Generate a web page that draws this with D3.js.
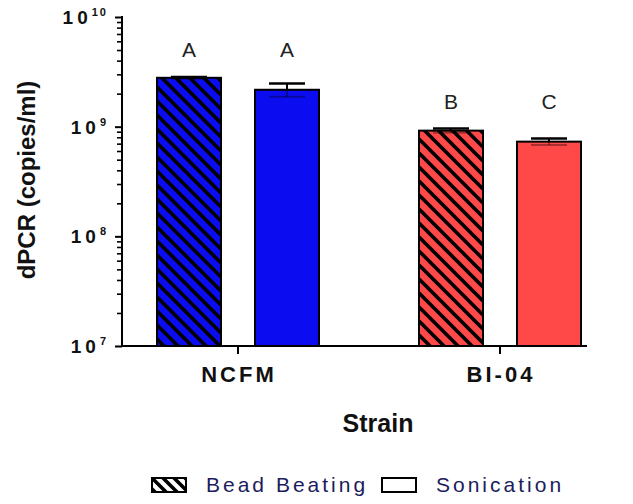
<!DOCTYPE html>
<html>
<head>
<meta charset="utf-8">
<script src="https://cdn.jsdelivr.net/npm/d3@7"></script>
<style>
  body { margin: 0; background: #fff; }
  svg { display: block; font-family: "Liberation Sans", Arial, sans-serif; }
</style>
</head>
<body>
<svg width="633" height="504"></svg>
<script>
// data
const strains = ["NCFM", "BI-04"];
const methods = ["Bead Beating", "Sonication"];
const means = {
  "NCFM":  [2.79e9, 2.17e9],
  "BI-04": [9.2e8, 7.3e8]
};
const errors = {
  "NCFM":  [0.05e9, 0.3e9],
  "BI-04": [0.4e8, 0.5e8]
};
const letters = {
  "NCFM":  ["A", "A"],
  "BI-04": ["B", "C"]
};
const colors = { "NCFM": "#0c0cf0", "BI-04": "#ff4848" };
const yTicks = [1e7, 1e8, 1e9, 1e10];

const svg = d3.select("svg");
const defs = svg.append("defs");

function hatch(id, bg, s) {
  const p = defs.append("pattern").attr("id", id)
    .attr("patternUnits", "userSpaceOnUse").attr("width", s).attr("height", s);
  p.append("rect").attr("width", s).attr("height", s).attr("fill", bg);
  p.append("path").attr("d", `M0,0L${s},${s}M-4,${s - 4}L4,${s + 4}M${s - 4},-4L${s + 4},4`)
    .attr("stroke", "#000").attr("stroke-width", 3.6);
}
hatch("hatch-NCFM", colors["NCFM"], 14);
hatch("hatch-BI-04", colors["BI-04"], 14);
hatch("hatch-legend", "#fff", 11);

const y = d3.scaleLog().domain([1e7, 1e10]).range([346, 17]);
const x0 = d3.scaleBand().domain(strains).range([107, 631]);
const x1 = d3.scaleBand().domain(methods).range([-81, 81]).paddingInner(0.347);

const rows = [];
strains.forEach(s => methods.forEach((m, i) => rows.push({
  strain: s, method: m, i: i, v: means[s][i], e: errors[s][i], letter: letters[s][i]
})));
const cx = d => x0(d.strain) + x0.bandwidth() / 2 + x1(d.method);

// bars
svg.append("g").selectAll("rect").data(rows).join("rect")
  .attr("x", d => cx(d))
  .attr("y", d => y(d.v))
  .attr("width", x1.bandwidth())
  .attr("height", d => y(1e7) - y(d.v))
  .attr("fill", d => d.i === 0 ? `url(#hatch-${d.strain})` : colors[d.strain])
  .attr("stroke", "#000").attr("stroke-width", 2);

// error bars
const eb = svg.append("g").selectAll("g").data(rows).join("g")
  .attr("transform", d => `translate(${cx(d) + x1.bandwidth() / 2},0)`);
eb.append("line")
  .attr("y1", d => y(d.v)).attr("y2", d => y(d.v + d.e))
  .attr("stroke", "#000").attr("stroke-width", 2);
eb.append("line")
  .attr("x1", -18).attr("x2", 18)
  .attr("y1", d => y(d.v + d.e)).attr("y2", d => y(d.v + d.e))
  .attr("stroke", "#000").attr("stroke-width", 2.5);
eb.append("line")
  .attr("y1", d => y(d.v)).attr("y2", d => y(d.v - d.e))
  .attr("stroke", "#000").attr("stroke-opacity", 0.35).attr("stroke-width", 2);
eb.append("line")
  .attr("x1", -18).attr("x2", 18)
  .attr("y1", d => y(d.v - d.e)).attr("y2", d => y(d.v - d.e))
  .attr("stroke", "#000").attr("stroke-opacity", 0.35).attr("stroke-width", 2);

// significance letters
svg.append("g").selectAll("text").data(rows).join("text")
  .attr("x", d => cx(d) + x1.bandwidth() / 2)
  .attr("y", d => {
    const top = d3.max(rows.filter(r => r.strain === d.strain), r => r.v + r.e);
    return y(top) - 20;
  })
  .attr("text-anchor", "middle")
  .attr("font-size", 21)
  .attr("fill", "#222")
  .text(d => d.letter);

// y axis
const minor = [];
for (let p = 7; p < 10; p++) for (let k = 2; k <= 9; k++) minor.push(k * Math.pow(10, p));
svg.append("g").attr("transform", "translate(122,0)")
  .call(d3.axisLeft(y).tickValues(minor).tickSize(5).tickFormat(""))
  .call(g => g.select(".domain").remove())
  .call(g => g.selectAll("line").attr("stroke-width", 1.6));
const yAxis = svg.append("g").attr("transform", "translate(122,0)")
  .call(d3.axisLeft(y).tickValues(yTicks).tickSize(7).tickFormat(""));
yAxis.select(".domain").attr("d", `M0,${y(1e10) - 1}V${y(1e7)}`).attr("stroke-width", 2);
yAxis.selectAll("line").attr("stroke-width", 2);
const yl = svg.append("g").selectAll("text").data(yTicks).join("text")
  .attr("x", 108).attr("y", d => y(d) + 7)
  .attr("text-anchor", "end")
  .attr("font-weight", "bold").attr("font-size", 19).attr("fill", "#111");
yl.append("tspan").attr("letter-spacing", 4).text("10");
yl.append("tspan").attr("dy", -8).attr("font-size", 11).attr("letter-spacing", 2)
  .text(d => Math.round(Math.log10(d)));

// x axis
const xAxis = svg.append("g").attr("transform", `translate(0,${y(1e7)})`)
  .call(d3.axisBottom(x0).tickSize(8).tickSizeOuter(0).tickFormat(""));
xAxis.select(".domain").attr("d", "M121,0H587").attr("stroke-width", 2);
xAxis.selectAll("line").attr("stroke-width", 2);
svg.append("g").selectAll("text").data(strains).join("text")
  .attr("x", d => x0(d) + x0.bandwidth() / 2 + 1)
  .attr("y", 382)
  .attr("text-anchor", "middle")
  .attr("font-weight", "bold").attr("font-size", 22).attr("letter-spacing", 3)
  .attr("fill", "#111")
  .text(d => d);

// axis titles
svg.append("text")
  .attr("x", 378).attr("y", 432)
  .attr("text-anchor", "middle")
  .attr("font-weight", "bold").attr("font-size", 25).attr("fill", "#111")
  .text("Strain");
svg.append("text")
  .attr("transform", "translate(35,180) rotate(-90)")
  .attr("text-anchor", "middle")
  .attr("font-weight", "bold").attr("font-size", 24).attr("fill", "#111")
  .text("dPCR (copies/ml)");

// legend
const legX = [152, 382];
const leg = svg.append("g").selectAll("g").data(methods).join("g")
  .attr("transform", (d, i) => `translate(${legX[i]},478)`);
leg.append("rect").attr("width", 34).attr("height", 14)
  .attr("fill", (d, i) => i === 0 ? "url(#hatch-legend)" : "#fff")
  .attr("stroke", "#000").attr("stroke-width", 2);
leg.append("text").attr("x", 54).attr("y", 14)
  .attr("font-size", 21).attr("letter-spacing", 3).attr("fill", "#1c1c5c")
  .text(d => d);
</script>
</body>
</html>
